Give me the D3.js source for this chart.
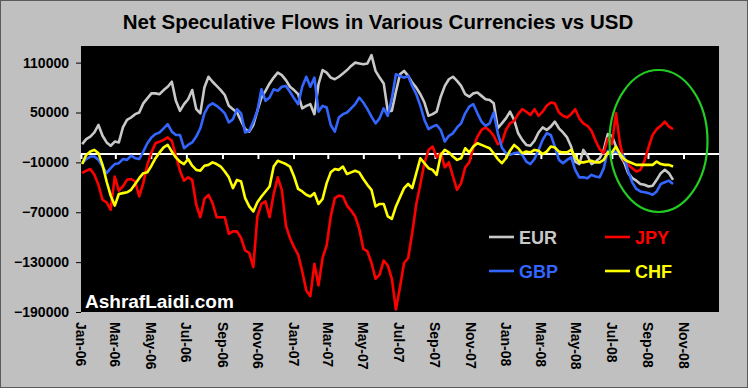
<!DOCTYPE html>
<html>
<head>
<meta charset="utf-8">
<script src="https://cdn.jsdelivr.net/npm/d3@7"></script>
<style>
  html, body { margin: 0; padding: 0; background: #c0c0c0; }
  svg { display: block; }
  text { font-family: "Liberation Sans", Arial, sans-serif; font-weight: bold; }
</style>
</head>
<body>
<svg id="chart" width="748" height="388"></svg>
<script>
// ---- data (weekly COT net positions, thousands of contracts) ----
const firstWeek = "2006-01-03";          // weekly observations start
const seriesNames = ["EUR", "JPY", "GBP", "CHF"];
const seriesColors = ["#c8c8c8", "#ff0000", "#3366ff", "#ffff00"];

const EUR = [12,18,21,26,35,22,14,10,15,14,32,41,44,48,50,61,67,73,73,72,77,81,87,64,52,60,66,77,54,49,80,
  93,87,82,77,71,58,54,50,40,30,27,35,52,68,76,85,92,98,95,89,81,77,72,55,58,60,48,84,101,98,
  92,90,93,97,101,106,110,109,108,109,119,100,92,85,52,52,75,96,100,94,86,80,72,62,46,48,51,69,82,90,93,88,82,
  72,69,73,74,70,66,65,61,31,37,43,51,41,25,17,11,10,16,26,32,29,33,39,31,26,20,9,-9,-12,5,-2,-12,-9,-5,5,24,22,9,-2,-10,-23,-29,-32,-36,-37,-39,-38,-31,-23,-19,-23,-31];
const JPY = [-23,-20,-18,-25,-37,-55,-58,-67,-27,-44,-39,-31,-30,-33,-51,-35,-13,2,13,15,17,20,16,-2,-20,-32,-28,-31,-61,-76,-54,
  -49,-59,-76,-76,-76,-96,-93,-93,-101,-116,-119,-136,-75,-60,-57,-76,-48,-28,-43,-86,-101,-112,-121,-141,-164,-171,-132,-158,-125,-110,
  -75,-53,-50,-51,-62,-68,-75,-90,-114,-117,-131,-150,-145,-128,-134,-150,-187,-160,-131,-125,-95,-60,-36,-11,5,9,-4,1,-16,-10,-27,-43,-35,
  -16,-10,8,21,29,32,28,22,12,14,29,37,40,48,54,51,47,54,46,51,58,62,61,50,46,44,48,54,43,37,34,28,16,6,1,19,12,49,12,-8,-13,-17,-21,-19,-8,8,23,30,34,39,33,30];
const GBP = [-11,-6,-3,-3,-7,-15,-23,-17,-12,-11,-6,-7,-2,-5,-6,3,13,20,24,26,31,36,27,23,23,7,11,14,21,31,49,
  58,61,58,54,49,38,42,54,49,26,28,39,52,78,64,68,78,76,81,82,75,67,60,81,93,81,92,51,58,56,
  35,27,44,48,50,55,60,68,62,54,45,37,43,55,46,67,96,94,92,94,82,72,58,41,30,33,35,29,15,22,25,32,37,
  49,57,60,49,39,34,37,50,25,8,1,-1,1,2,-1,-9,-12,-6,5,17,25,23,9,-7,-11,-7,-4,-19,-28,-28,-29,-25,-27,-28,-17,4,2,3,1,-3,-21,-34,-42,-45,-46,-47,-49,-45,-36,-34,-32,-36];
const CHF = [-12,-1,3,5,1,-13,-33,-50,-62,-48,-47,-46,-43,-36,-29,-23,-22,-14,-5,2,8,11,3,-4,-9,-12,-6,-14,-19,-20,-14,
  -13,-10,-12,-15,-21,-28,-41,-31,-33,-53,-63,-69,-58,-51,-45,-39,-15,-8,-10,-12,-15,-27,-42,-45,-49,-51,-47,-60,-54,-35,
  -22,-18,-19,-15,-24,-22,-20,-22,-30,-37,-43,-63,-60,-60,-75,-78,-63,-52,-41,-36,-41,-23,-5,-11,-17,-19,-25,-1,5,2,-3,-7,-5,
  7,2,9,13,11,9,7,1,-6,-11,-5,4,11,7,1,3,2,5,4,0,3,9,8,3,2,2,5,-3,-10,-10,-9,-8,-10,-10,-7,2,2,9,0,-6,-9,-11,-13,-13,-13,-13,-13,-9,-12,-13,-13,-15];
const seriesValues = [EUR, JPY, GBP, CHF];
const yTicks = [110000, 50000, -10000, -70000, -130000, -190000];
const xTickLabels = ["Jan-06","Mar-06","May-06","Jul-06","Sep-06","Nov-06","Jan-07","Mar-07","May-07","Jul-07","Sep-07","Nov-07","Jan-08","Mar-08","May-08","Jul-08","Sep-08","Nov-08"];

// ---- layout ----
const svg = d3.select("#chart");
const W = 748, H = 388;
const plot = { left: 81, right: 719, top: 46, bottom: 312 };

svg.append("rect").attr("x", 0.5).attr("y", 0.5).attr("width", W - 1).attr("height", H - 1)
  .attr("fill", "#c0c0c0").attr("stroke", "#5a5a5a").attr("stroke-width", 1);

const parse = d3.timeParse("%Y-%m-%d");
const fmt = d3.timeFormat("%b-%y");
const start = parse(firstWeek);
const dates = EUR.map((_, i) => d3.timeDay.offset(start, 7 * i));

const x = d3.scaleTime()
  .domain([new Date(2006, 0, 1), new Date(2009, 0, 1)])
  .range([plot.left, plot.right]);
const y = d3.scaleLinear().domain([-190000, 130000]).range([plot.bottom, plot.top]);

// title
svg.append("text").attr("x", 378).attr("y", 29).attr("text-anchor", "middle")
  .attr("font-size", 20.5).attr("fill", "#000")
  .text("Net Speculative Flows in Various Currencies vs USD");

// plot background
svg.append("rect").attr("x", plot.left).attr("y", plot.top)
  .attr("width", plot.right - plot.left).attr("height", plot.bottom - plot.top)
  .attr("fill", "#000");

// y axis
const yAxis = d3.axisLeft(y).tickValues(yTicks).tickSize(5).tickPadding(7)
  .tickFormat(d3.format("d"));
const gy = svg.append("g").attr("transform", `translate(${plot.left},0)`).call(yAxis);
gy.select(".domain").remove();
gy.selectAll(".tick line").attr("stroke", "#000");
gy.selectAll(".tick text").attr("font-size", 14).attr("font-family", null).attr("fill", "#000");

// x axis: white line at zero with ticks, labels at bottom
const tickDates = xTickLabels.map(s => d3.timeParse("%b-%y")(s));
const xAxis = d3.axisBottom(x).tickValues(tickDates).tickSize(5).tickFormat("");
const gx = svg.append("g").attr("transform", `translate(0,${y(0)})`).call(xAxis);
gx.select(".domain").attr("stroke", "#fff").attr("stroke-width", 2)
  .attr("d", `M${plot.left},0H${plot.right}`);
gx.selectAll(".tick line").attr("stroke", "#fff").attr("stroke-width", 2);

svg.append("g").selectAll("text").data(tickDates).join("text")
  .attr("transform", d => `translate(${x(d)},${plot.bottom + 10}) rotate(90)`)
  .attr("dy", "0.35em").attr("text-anchor", "start")
  .attr("font-size", 14).attr("fill", "#000")
  .text(d => fmt(d));

// lines
svg.append("clipPath").attr("id", "clip").append("rect")
  .attr("x", plot.left).attr("y", plot.top)
  .attr("width", plot.right - plot.left).attr("height", plot.bottom - plot.top);

const line = d3.line().x((d, i) => x(dates[i])).y(d => y(d * 1000));
const gl = svg.append("g").attr("clip-path", "url(#clip)");
seriesValues.forEach((vals, k) => {
  gl.append("path").datum(vals).attr("d", line)
    .attr("fill", "none").attr("stroke", seriesColors[k])
    .attr("stroke-width", 2.6).attr("stroke-linejoin", "round");
});

// legend
const legendPos = [[489, 237], [605, 237], [489, 271], [605, 271]];
seriesNames.forEach((name, k) => {
  const [lx, ly] = legendPos[k];
  svg.append("line").attr("x1", lx).attr("x2", lx + 25).attr("y1", ly).attr("y2", ly)
    .attr("stroke", seriesColors[k]).attr("stroke-width", 2.6);
  svg.append("text").attr("x", lx + 30).attr("y", ly + 7)
    .attr("font-size", 18).attr("fill", seriesColors[k]).text(name);
});

// watermark
svg.append("text").attr("x", 85).attr("y", 308).attr("font-size", 19)
  .attr("fill", "#fff").text("AshrafLaidi.com");

// highlight ellipse
svg.append("ellipse").attr("cx", 658.5).attr("cy", 141).attr("rx", 49).attr("ry", 71)
  .attr("fill", "none").attr("stroke", "#22cc22").attr("stroke-width", 2.2);
</script>
</body>
</html>
